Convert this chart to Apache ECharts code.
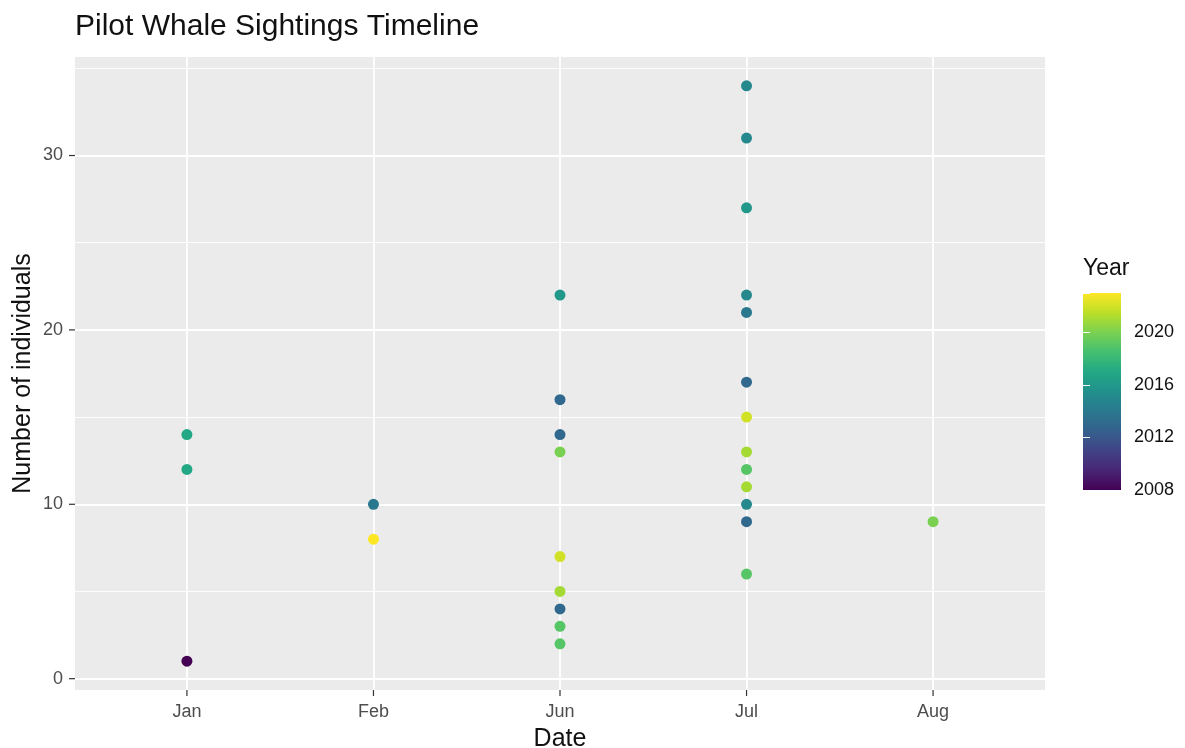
<!DOCTYPE html>
<html>
<head>
<meta charset="utf-8">
<script src="https://cdn.jsdelivr.net/npm/echarts@6/dist/echarts.min.js"></script>
<style>html,body{margin:0;padding:0;background:#fff}#c{width:1185px;height:748px}</style>
</head>
<body>
<div id="c"></div>
<script>
const months = ['Jan', 'Feb', 'Jun', 'Jul', 'Aug'];
const sightMonth = [0, 0, 0, 1, 1, 2, 2, 2, 2, 2, 2, 2, 2, 2, 3, 3, 3, 3, 3, 3, 3, 3, 3, 3, 3, 3, 3, 4];
const sightCount = [14, 12, 1, 10, 8, 22, 16, 14, 13, 7, 5, 4, 3, 2, 34, 31, 27, 22, 21, 17, 15, 13, 12, 11, 10, 9, 6, 9];
const sightYear = [2017, 2017, 2008, 2014, 2023, 2016, 2013, 2013, 2020, 2022, 2021, 2013, 2019, 2019,
  2015, 2015, 2016, 2015, 2014, 2013, 2022, 2021, 2019, 2021, 2015, 2013, 2019, 2020];
const yTicks = [0, 10, 20, 30];
const yMinor = [5, 15, 25, 35];
const viridis = ['#440154', '#482576', '#414487', '#35608D', '#2A788E', '#21908C', '#22A884', '#43BF71', '#7AD151', '#BBDF27', '#FDE725'];

const data = sightMonth.map((m, i) => [m, sightCount[i], sightYear[i]]);
const monthIdx = months.map((_, i) => i);
const font = 'Liberation Sans, Arial, sans-serif';
const X_MIN = -0.6, X_MAX = 4.6, Y_MIN = -0.65, Y_MAX = 35.65;
const TICK = 6;

// tick marks drawn through the axes' own scales (outside the panel)
const tickData = [
  ...monthIdx.map(v => ['x', v]),
  ...yTicks.map(v => ['y', v])
];

const chart = echarts.init(document.getElementById('c'));
chart.setOption({
  animation: false,
  textStyle: { fontFamily: font },
  title: [
    { text: 'Pilot Whale Sightings Timeline', left: 75, top: 12, padding: 0,
      textStyle: { fontSize: 30, fontWeight: 'normal', color: '#111', fontFamily: font } },
    { text: 'Year', left: 1083, top: 257, padding: 0,
      textStyle: { fontSize: 23, fontWeight: 'normal', color: '#111', fontFamily: font } }
  ],
  grid: [
    { left: 75, right: 140, top: 57, bottom: 58, show: true, backgroundColor: '#EBEBEB', borderWidth: 0,
      containLabel: false, outerBoundsMode: 'none' },
    { left: 1083, top: 293, width: 38, height: 197, show: true, borderWidth: 0,
      containLabel: false, outerBoundsMode: 'none',
      backgroundColor: new echarts.graphic.LinearGradient(0, 1, 0, 0,
        viridis.map((c, i) => ({ offset: i / (viridis.length - 1), color: c }))) }
  ],
  xAxis: [
    { type: 'value', gridIndex: 0, min: X_MIN, max: X_MAX,
      name: 'Date', nameLocation: 'middle', nameGap: 37, nameMoveOverlap: false,
      nameTextStyle: { fontSize: 25, color: '#111', fontFamily: font },
      splitLine: { show: false }, axisLine: { show: false }, axisTick: { show: false },
      axisLabel: { customValues: monthIdx, formatter: v => months[v] ?? '', color: '#4D4D4D', fontSize: 18, margin: 13 } },
    { type: 'value', gridIndex: 1, min: 0, max: 1, show: false }
  ],
  yAxis: [
    { type: 'value', gridIndex: 0, min: Y_MIN, max: Y_MAX,
      name: 'Number of individuals', nameLocation: 'middle', nameGap: 39, nameMoveOverlap: false,
      nameTextStyle: { fontSize: 25, color: '#111', fontFamily: font },
      splitLine: { show: false }, axisLine: { show: false }, axisTick: { show: false },
      axisLabel: { customValues: yTicks, color: '#4D4D4D', fontSize: 18, margin: 12 } },
    { type: 'value', gridIndex: 1, min: 2008, max: 2023, interval: 4, position: 'right',
      splitLine: { show: false }, axisLine: { show: false },
      axisTick: { show: true, inside: true, length: 7, lineStyle: { color: '#fff', width: 1 } },
      axisLabel: { color: '#111', fontSize: 18, margin: 13, showMaxLabel: false, formatter: v => String(v) } },
    { type: 'value', gridIndex: 1, min: 2008, max: 2023, interval: 4, position: 'left',
      splitLine: { show: false }, axisLine: { show: false },
      axisTick: { show: true, inside: true, length: 7, lineStyle: { color: '#fff', width: 1 } },
      axisLabel: { show: false } }
  ],
  visualMap: {
    type: 'continuous', show: false, min: 2008, max: 2023, dimension: 2, seriesIndex: 1,
    inRange: { color: viridis }
  },
  series: [
    { type: 'scatter', xAxisIndex: 0, yAxisIndex: 0, data: [], z: 1, silent: true,
      markLine: {
        z: 1, silent: true, symbol: 'none', label: { show: false }, animation: false,
        data: [
          ...yMinor.map(v => ({ yAxis: v, lineStyle: { color: '#fff', width: 0.9, type: 'solid' } })),
          ...yTicks.map(v => ({ yAxis: v, lineStyle: { color: '#fff', width: 1.8, type: 'solid' } })),
          ...monthIdx.map(v => ({ xAxis: v, lineStyle: { color: '#fff', width: 1.8, type: 'solid' } }))
        ]
      } },
    { type: 'scatter', xAxisIndex: 0, yAxisIndex: 0, data: data, symbolSize: 11, z: 10,
      itemStyle: { opacity: 1 } },
    { type: 'custom', xAxisIndex: 0, yAxisIndex: 0, data: tickData, clip: false, silent: true, z: 5,
      encode: { x: -1, y: -1 },
      renderItem: (params, api) => {
        const d = tickData[params.dataIndex];
        let p, x1, y1, x2, y2;
        if (d[0] === 'x') {
          p = api.coord([d[1], Y_MIN]);
          x1 = x2 = p[0]; y1 = p[1]; y2 = p[1] + TICK;
        } else {
          p = api.coord([X_MIN, d[1]]);
          y1 = y2 = p[1]; x1 = p[0]; x2 = p[0] - TICK;
        }
        return { type: 'line', shape: { x1, y1, x2, y2 }, style: { stroke: '#333', lineWidth: 1.2 } };
      } }
  ]
});
</script>
</body>
</html>
